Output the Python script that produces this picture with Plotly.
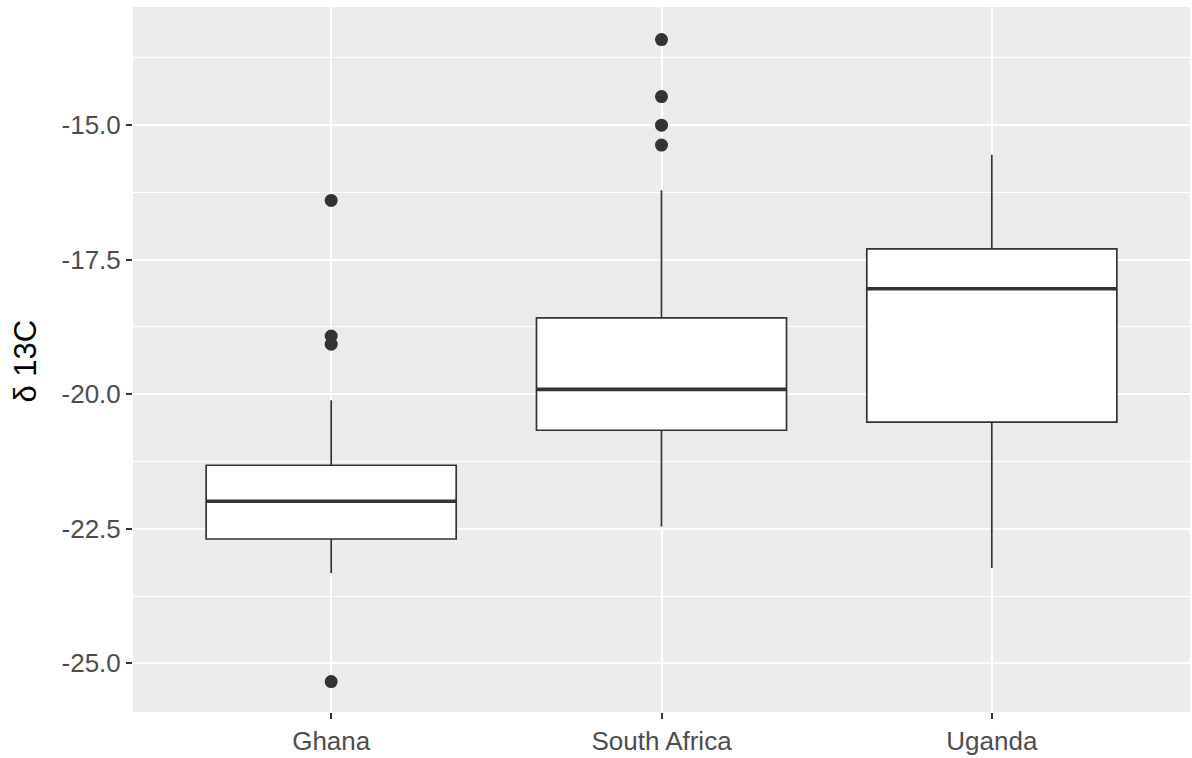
import plotly.graph_objects as go

categories = ["Ghana", "South Africa", "Uganda"]
q1 = [-22.69, -20.67, -20.52]
median = [-21.99, -19.91, -18.04]
q3 = [-21.32, -18.58, -17.30]
lower_whisker = [-23.32, -22.46, -23.23]
upper_whisker = [-20.11, -16.21, -15.55]

outlier_cat = ["Ghana", "Ghana", "Ghana", "Ghana",
               "South Africa", "South Africa", "South Africa", "South Africa"]
outlier_val = [-16.40, -18.92, -19.07, -25.34,
               -13.41, -14.47, -15.00, -15.37]

y_tickvals = [-25.0, -22.5, -20.0, -17.5, -15.0]
y_ticktext = ["-25.0", "-22.5", "-20.0", "-17.5", "-15.0"]

pos = {c: i for i, c in enumerate(categories)}
BOX_W = 0.757
LINE = "#333333"
FONT = "Liberation Sans, Arial, sans-serif"

fig = go.Figure()
fig.add_trace(go.Box(
    x=[pos[c] for c in categories],
    q1=q1, median=median, q3=q3,
    lowerfence=lower_whisker, upperfence=upper_whisker,
    width=BOX_W, whiskerwidth=0,
    fillcolor="white", line=dict(color=LINE, width=1.7),
    boxpoints=False, showlegend=False, hoverinfo="skip",
))
for c, m in zip(categories, median):
    i = pos[c]
    fig.add_trace(go.Scatter(
        x=[i - BOX_W / 2, i + BOX_W / 2], y=[m, m], mode="lines",
        line=dict(color=LINE, width=3.6), showlegend=False, hoverinfo="skip",
    ))
fig.add_trace(go.Scatter(
    x=[pos[c] for c in outlier_cat], y=outlier_val, mode="markers",
    marker=dict(color=LINE, size=13, line=dict(width=0)),
    showlegend=False, hoverinfo="skip",
))

fig.update_layout(
    width=1192, height=758,
    margin=dict(l=133, r=2, t=7, b=46),
    paper_bgcolor="white", plot_bgcolor="#EBEBEB",
    font=dict(family=FONT, color="#4D4D4D", size=26),
    xaxis=dict(
        range=[-0.6, 2.6], tickvals=list(range(len(categories))), ticktext=categories,
        showgrid=True, gridcolor="white", gridwidth=2.2, zeroline=False,
        ticks="outside", ticklen=6, tickwidth=1.5, tickcolor=LINE,
        tickfont=dict(size=26, color="#4D4D4D"), showline=False,
    ),
    yaxis=dict(
        range=[-25.905, -12.805], tickvals=y_tickvals, ticktext=y_ticktext,
        showgrid=True, gridcolor="white", gridwidth=2.2, zeroline=False,
        ticks="outside", ticklen=6, tickwidth=1.5, tickcolor=LINE,
        tickfont=dict(size=26, color="#4D4D4D"), showline=False,
        minor=dict(tickvals=[-26.25, -23.75, -21.25, -18.75, -16.25, -13.75],
                   showgrid=True, gridcolor="white", gridwidth=1.1, ticks=""),
    ),
    annotations=[dict(
        text="δ 13C", xref="paper", yref="paper", x=0, y=0.5,
        xanchor="center", yanchor="middle", xshift=-108, yshift=-2, textangle=-90,
        showarrow=False, font=dict(family=FONT, size=31, color="black"),
    )],
)

fig.write_html("out.html")
